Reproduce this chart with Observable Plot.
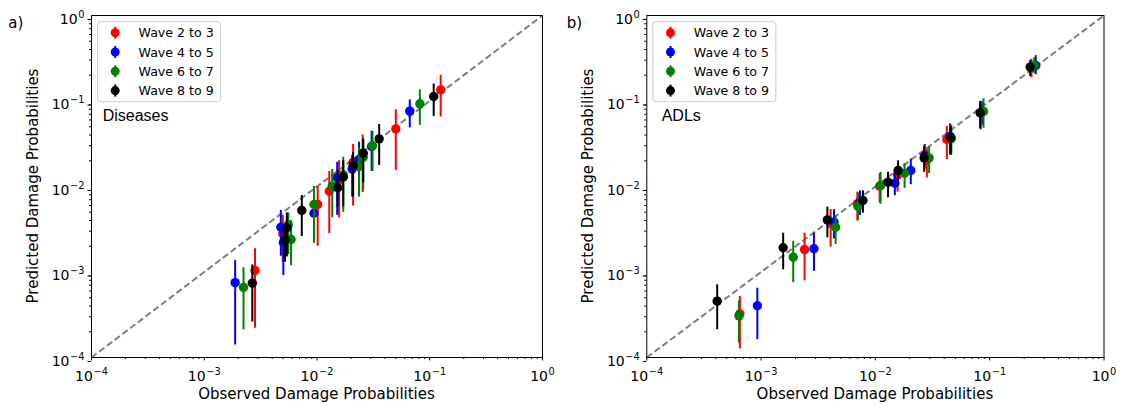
<!DOCTYPE html>
<html><head><meta charset="utf-8">
<script src="https://cdn.jsdelivr.net/npm/d3@7"></script>
<script src="https://cdn.jsdelivr.net/npm/@observablehq/plot@0.6"></script>
<style>
body{margin:0;background:#fff;}
#wrap{position:relative;width:1124px;height:405px;font-family:"DejaVu Sans",sans-serif;}
#wrap > *{position:absolute;top:0;}
</style></head><body><div id="wrap"></div>
<script>
// ---- categories / labels ----
const waves = ["Wave 2 to 3", "Wave 4 to 5", "Wave 6 to 7", "Wave 8 to 9"];
const waveColors = ["red", "blue", "green", "black"];
const majorTicks = [1e-4, 1e-3, 1e-2, 1e-1, 1];
const tickBase = "10";
const tickExponents = ["−4", "−3", "−2", "−1", "0"];
const minorMultipliers = [2, 3, 4, 5, 6, 7, 8, 9];
const panelNames = ["Diseases", "ADLs"];
const panelLetters = ["a)", "b)"];
const xTitle = "Observed Damage Probabilities";
const yTitle = "Predicted Damage Probabilities";

// ---- data: [observed, predicted, lower, upper] ----
const diseasesW23 = [
  [0.00282, 0.00104, 0.00022, 0.00187],
  [0.00497, 0.0028, 0.0013, 0.0046],
  [0.01014, 0.00615, 0.0020, 0.0100],
  [0.01285, 0.0088, 0.0028, 0.0150],
  [0.0157, 0.0118, 0.0043, 0.0200],
  [0.0209, 0.0192, 0.0059, 0.0310],
  [0.0254, 0.0245, 0.0085, 0.0400],
  [0.050, 0.0472, 0.0154, 0.0790],
  [0.125, 0.135, 0.065, 0.200]
];
const diseasesW45 = [
  [0.00188, 0.00075, 0.00014, 0.00136],
  [0.00478, 0.00334, 0.00153, 0.00525],
  [0.00503, 0.00221, 0.00091, 0.0036],
  [0.0094, 0.00487, 0.0022, 0.0080],
  [0.0151, 0.01264, 0.0046, 0.0192],
  [0.0205, 0.0161, 0.0075, 0.0231],
  [0.0236, 0.0205, 0.0080, 0.0330],
  [0.0305, 0.0294, 0.0150, 0.0443],
  [0.0665, 0.076, 0.0485, 0.103]
];
const diseasesW67 = [
  [0.00223, 0.00066, 0.00021, 0.00112],
  [0.00557, 0.00356, 0.0016, 0.0049],
  [0.00589, 0.0024, 0.00119, 0.0040],
  [0.0094, 0.00615, 0.00217, 0.0100],
  [0.01365, 0.0101, 0.0043, 0.0158],
  [0.0171, 0.0137, 0.0050, 0.0220],
  [0.0236, 0.0171, 0.0075, 0.0280],
  [0.0257, 0.022, 0.0090, 0.0340],
  [0.0311, 0.030, 0.0150, 0.0440],
  [0.0817, 0.0927, 0.052, 0.135]
];
const diseasesW89 = [
  [0.00267, 0.00074, 0.00026, 0.00121],
  [0.0054, 0.00329, 0.0015, 0.0049],
  [0.00521, 0.00238, 0.0013, 0.0036],
  [0.00733, 0.00525, 0.0026, 0.00785],
  [0.01524, 0.00966, 0.0058, 0.0154],
  [0.0171, 0.0129, 0.0058, 0.0200],
  [0.0209, 0.0175, 0.0075, 0.0250],
  [0.0257, 0.0245, 0.0110, 0.0360],
  [0.0356, 0.0361, 0.0176, 0.0530],
  [0.1084, 0.113, 0.066, 0.158]
];
const adlsW23 = [
  [0.000652, 0.000324, 0.000126, 0.000516],
  [0.0024, 0.00183, 0.00079, 0.00284],
  [0.00406, 0.00372, 0.00195, 0.00537],
  [0.00695, 0.00627, 0.00394, 0.0086],
  [0.0109, 0.0101, 0.0064, 0.0141],
  [0.0156, 0.0137, 0.0086, 0.0166],
  [0.0282, 0.0205, 0.0126, 0.0275],
  [0.0422, 0.0355, 0.0207, 0.0504],
  [0.0836, 0.072, 0.046, 0.098],
  [0.232, 0.244, 0.186, 0.309]
];
const adlsW45 = [
  [0.000927, 0.000403, 0.000162, 0.000646],
  [0.0029, 0.00187, 0.00102, 0.00284],
  [0.00434, 0.00383, 0.00244, 0.00537],
  [0.00733, 0.00668, 0.00460, 0.0089],
  [0.0148, 0.0109, 0.0078, 0.0140],
  [0.0204, 0.0154, 0.0105, 0.0209],
  [0.027, 0.0231, 0.0160, 0.0310],
  [0.045, 0.0385, 0.0235, 0.0540],
  [0.0865, 0.076, 0.052, 0.098],
  [0.253, 0.260, 0.203, 0.339]
];
const adlsW67 = [
  [0.00064, 0.000307, 0.000147, 0.000457],
  [0.00191, 0.00149, 0.00075, 0.00229],
  [0.00449, 0.00334, 0.0021, 0.0045],
  [0.00705, 0.00584, 0.0040, 0.0084],
  [0.0111, 0.0103, 0.0062, 0.0146],
  [0.018, 0.0143, 0.0095, 0.0185],
  [0.0295, 0.0216, 0.0142, 0.0290],
  [0.0462, 0.0364, 0.0240, 0.0520],
  [0.0883, 0.0754, 0.048, 0.106],
  [0.245, 0.260, 0.210, 0.320]
];
const adlsW89 = [
  [0.000413, 0.000456, 0.000211, 0.000708],
  [0.00156, 0.00192, 0.00106, 0.00284],
  [0.0038, 0.00407, 0.00251, 0.00573],
  [0.00778, 0.00686, 0.00488, 0.0089],
  [0.0129, 0.0112, 0.0074, 0.0147],
  [0.0158, 0.0154, 0.0100, 0.0200],
  [0.0267, 0.0216, 0.0147, 0.0294],
  [0.0456, 0.0371, 0.0231, 0.0504],
  [0.0824, 0.0728, 0.0472, 0.0990],
  [0.226, 0.249, 0.194, 0.298]
];
const panelData = [
  [diseasesW23, diseasesW45, diseasesW67, diseasesW89],
  [adlsW23, adlsW45, adlsW67, adlsW89]
];

// ---- derived ----
const minorTicks = majorTicks.slice(0, -1).flatMap(d => minorMultipliers.map(m => d * m));
const fmt = d => "@@" + majorTicks.indexOf(d);
const diag = [[majorTicks[0], majorTicks[0]], [majorTicks[majorTicks.length - 1], majorTicks[majorTicks.length - 1]]];

const layouts = [
  {left: 0, width: 562, marginLeft: 91, marginRight: 20},
  {left: 562, width: 562, marginLeft: 84.3, marginRight: 20.5}
];
const H = 405, MT = 15, MB = 48;

const wrap = document.getElementById("wrap");

layouts.forEach((L, p) => {
  const marks = [
    Plot.line(diag, {x: d => d[0], y: d => d[1], stroke: "#7f7f7f", strokeWidth: 2, strokeDasharray: "6.5,3.2", strokeLinecap: "butt"})
  ];
  panelData[p].forEach((rowsRaw, i) => {
    const rows = rowsRaw.map(([o, pr, lo, hi]) => ({o, pr, lo, hi, wave: waves[i]}));
    marks.push(Plot.ruleX(rows, {x: "o", y1: "lo", y2: "hi", stroke: waveColors[i], strokeWidth: 2}));
    marks.push(Plot.dot(rows, {x: "o", y: "pr", r: 4.7, fill: waveColors[i], stroke: "none"}));
  });
  marks.push(
    Plot.frame({stroke: "black", strokeWidth: 1}),
    Plot.axisX(majorTicks, {tickSize: 3.5, tickPadding: 10.5, tickFormat: fmt, label: null, stroke: "black", fill: "black"}),
    Plot.axisX(minorTicks, {tickSize: 2, text: null, label: null, stroke: "black"}),
    Plot.axisY(majorTicks, {tickSize: 3.5, tickPadding: 3.5, tickFormat: fmt, label: null, dy: 4, stroke: "black", fill: "black"}),
    Plot.axisY(minorTicks, {tickSize: 2, text: null, label: null, stroke: "black"})
  );
  const svg = Plot.plot({
    width: L.width, height: H,
    marginLeft: L.marginLeft, marginRight: L.marginRight, marginTop: MT, marginBottom: MB,
    x: {type: "log", domain: [1e-4, 1], label: null},
    y: {type: "log", domain: [1e-4, 1], label: null},
    style: {fontFamily: "DejaVu Sans, sans-serif", fontSize: "14px", color: "black", background: "transparent", overflow: "visible"},
    marks
  });
  // render tick labels as 10 with a superscript exponent
  d3.select(svg).selectAll("text").each(function() {
    const t = this.textContent;
    if (!t.startsWith("@@")) return;
    const k = +t.slice(2);
    const sel = d3.select(this);
    sel.text("");
    sel.append("tspan").text(tickBase);
    sel.append("tspan").attr("font-size", "9.8px").attr("dy", -6.3).attr("dx", 0.6).text(tickExponents[k]);
  });
  svg.style.left = L.left + "px";
  wrap.appendChild(svg);
});

// ---- overlay: titles, legends, panel annotations ----
const ov = d3.select(wrap).append("svg").attr("width", 1124).attr("height", H)
  .style("left", "0px").style("font-family", "DejaVu Sans, sans-serif");

layouts.forEach((L, p) => {
  const fx0 = L.left + L.marginLeft, fx1 = L.left + L.width - L.marginRight;
  const cx = (fx0 + fx1) / 2;
  ov.append("text").attr("x", L.left + (p === 0 ? 8.3 : 4.7)).attr("y", 27.5)
    .attr("font-size", 15).text(panelLetters[p]);
  ov.append("text").attr("x", cx).attr("y", 399).attr("text-anchor", "middle")
    .attr("font-size", 15).text(xTitle);
  ov.append("text").attr("transform", `translate(${fx0 - 53},${(MT + H - MB) / 2}) rotate(-90)`)
    .attr("text-anchor", "middle").attr("font-size", 15).text(yTitle);
  ov.append("text").attr("x", fx0 + (p === 0 ? 11.7 : 15.4)).attr("y", 121)
    .attr("font-family", "Liberation Sans, Arial, sans-serif").attr("font-size", 16).text(panelNames[p]);
  const lg = ov.append("g").attr("transform", `translate(${fx0 + 6.5},21.7)`);
  lg.append("rect").attr("width", 123).attr("height", 80).attr("rx", 3)
    .attr("fill", "white").attr("fill-opacity", 0.8).attr("stroke", "#cccccc");
  waves.forEach((w, i) => {
    const cy = 11 + i * 19.3;
    lg.append("line").attr("x1", 17.7).attr("x2", 17.7).attr("y1", cy - 6).attr("y2", cy + 6)
      .attr("stroke", waveColors[i]).attr("stroke-width", 2);
    lg.append("circle").attr("cx", 17.7).attr("cy", cy).attr("r", 4.5).attr("fill", waveColors[i]);
    lg.append("text").attr("x", 41).attr("y", cy).attr("dy", "0.36em")
      .attr("font-size", 12.6).attr("fill", "black").text(w);
  });
});
</script></body></html>
